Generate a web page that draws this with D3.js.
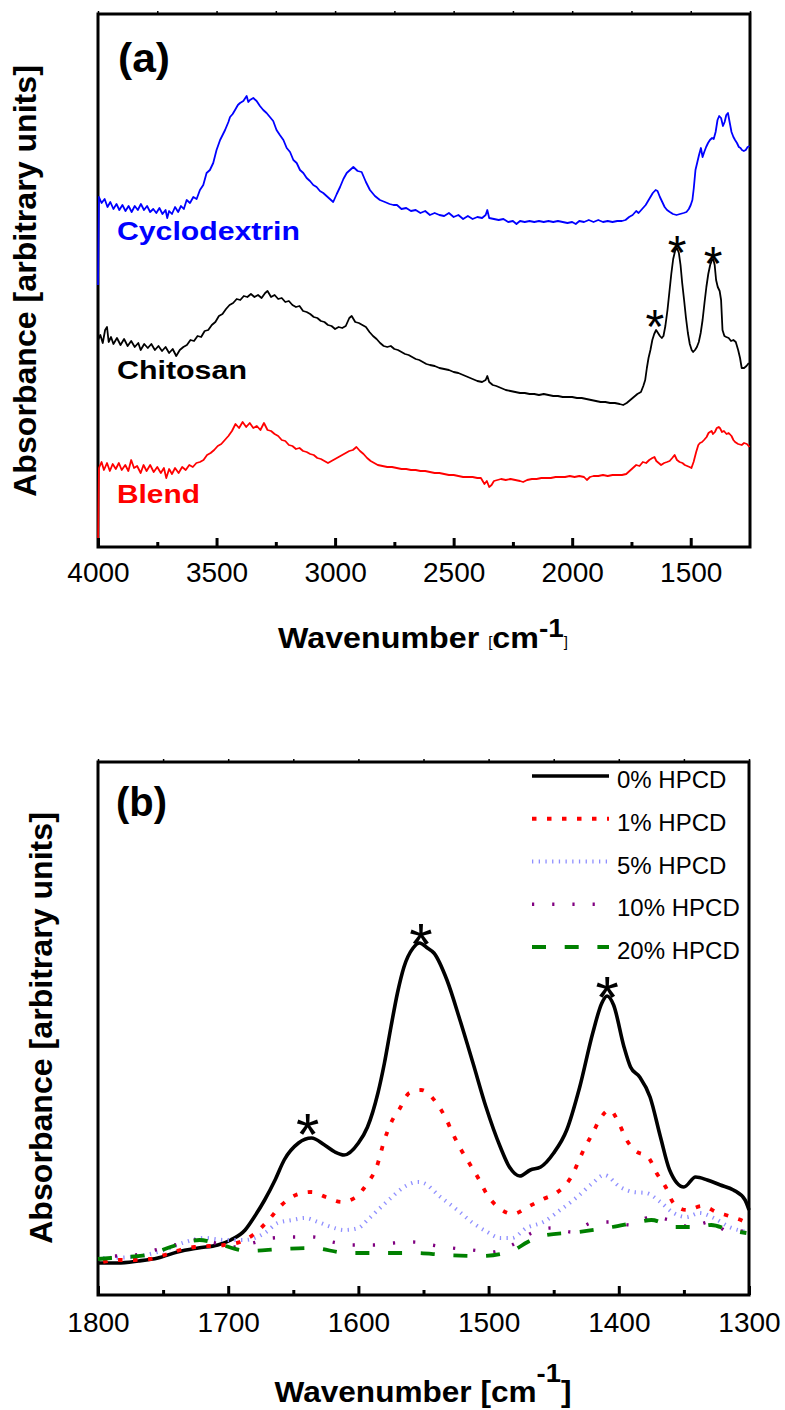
<!DOCTYPE html>
<html>
<head>
<meta charset="utf-8">
<script src="https://cdn.jsdelivr.net/npm/d3@7"></script>
<style>
  body { margin: 0; background: #fff; }
  svg { display: block; font-family: "Liberation Sans", Arial, sans-serif; }
</style>
</head>
<body>
<svg id="chart"></svg>
<script>
let width = 785, height = 1410;

// ---- panel (a): [wavenumber, absorbance] ----
const cyclodextrin = [[4000,0.524],[3996,0.700],[3985,0.688],[3972,0.696],[3960,0.680],[3948,0.690],[3935,0.676],[3922,0.686],[3910,0.674],[3897,0.684],[3884,0.672],[3871,0.682],[3858,0.670],[3845,0.682],[3832,0.674],[3819,0.686],[3806,0.674],[3793,0.682],[3780,0.670],[3767,0.676],[3754,0.668],[3741,0.678],[3728,0.666],[3715,0.674],[3708,0.658],[3700,0.672],[3688,0.666],[3675,0.680],[3662,0.670],[3650,0.682],[3638,0.676],[3626,0.694],[3612,0.688],[3598,0.700],[3584,0.696],[3570,0.714],[3556,0.724],[3542,0.748],[3528,0.754],[3514,0.768],[3500,0.794],[3485,0.814],[3464,0.834],[3450,0.850],[3443,0.860],[3432,0.866],[3422,0.874],[3410,0.884],[3401,0.888],[3387,0.892],[3373,0.902],[3366,0.890],[3359,0.894],[3345,0.898],[3331,0.892],[3317,0.882],[3303,0.874],[3289,0.868],[3275,0.860],[3261,0.852],[3247,0.834],[3233,0.824],[3218,0.814],[3204,0.798],[3190,0.790],[3176,0.774],[3162,0.768],[3148,0.754],[3134,0.748],[3120,0.738],[3106,0.732],[3092,0.724],[3078,0.720],[3064,0.712],[3050,0.708],[3036,0.702],[3022,0.696],[3008,0.690],[2993,0.706],[2979,0.720],[2965,0.736],[2951,0.748],[2937,0.754],[2923,0.760],[2905,0.752],[2888,0.750],[2870,0.730],[2853,0.714],[2832,0.702],[2811,0.694],[2790,0.690],[2770,0.686],[2754,0.684],[2739,0.684],[2720,0.676],[2700,0.678],[2680,0.672],[2660,0.674],[2640,0.668],[2620,0.672],[2600,0.664],[2580,0.668],[2560,0.664],[2540,0.662],[2520,0.668],[2500,0.660],[2480,0.664],[2460,0.656],[2440,0.662],[2420,0.656],[2400,0.660],[2380,0.658],[2365,0.664],[2358,0.674],[2350,0.658],[2330,0.656],[2310,0.654],[2290,0.656],[2270,0.650],[2250,0.652],[2235,0.646],[2220,0.652],[2200,0.650],[2180,0.652],[2160,0.650],[2140,0.652],[2120,0.650],[2100,0.652],[2080,0.650],[2060,0.652],[2040,0.650],[2020,0.648],[2000,0.650],[1985,0.646],[1970,0.652],[1950,0.650],[1930,0.654],[1910,0.650],[1890,0.654],[1870,0.650],[1850,0.652],[1830,0.650],[1810,0.652],[1790,0.652],[1775,0.654],[1760,0.660],[1745,0.664],[1730,0.672],[1720,0.668],[1705,0.676],[1690,0.684],[1675,0.696],[1660,0.708],[1648,0.714],[1640,0.712],[1630,0.700],[1620,0.690],[1610,0.680],[1600,0.674],[1588,0.670],[1575,0.666],[1560,0.664],[1545,0.666],[1530,0.668],[1518,0.670],[1508,0.676],[1500,0.684],[1493,0.694],[1487,0.718],[1480,0.754],[1472,0.770],[1465,0.784],[1457,0.798],[1450,0.780],[1443,0.790],[1435,0.800],[1427,0.808],[1419,0.814],[1410,0.818],[1403,0.816],[1395,0.830],[1387,0.854],[1380,0.862],[1372,0.858],[1364,0.842],[1357,0.850],[1350,0.864],[1343,0.868],[1336,0.850],[1328,0.830],[1320,0.820],[1313,0.814],[1305,0.808],[1297,0.800],[1290,0.798],[1284,0.794],[1276,0.792],[1268,0.794],[1260,0.800],[1252,0.802]];

const chitosan = [[4000,0.414],[3990,0.424],[3980,0.408],[3970,0.434],[3962,0.440],[3955,0.410],[3945,0.420],[3935,0.406],[3920,0.418],[3905,0.404],[3890,0.416],[3875,0.402],[3860,0.412],[3845,0.400],[3830,0.408],[3820,0.394],[3805,0.406],[3790,0.398],[3775,0.406],[3760,0.394],[3745,0.402],[3730,0.392],[3715,0.400],[3700,0.388],[3685,0.396],[3670,0.382],[3655,0.394],[3640,0.400],[3625,0.404],[3610,0.414],[3595,0.412],[3580,0.422],[3565,0.420],[3550,0.432],[3535,0.434],[3520,0.444],[3505,0.450],[3490,0.462],[3475,0.466],[3460,0.476],[3445,0.484],[3430,0.488],[3415,0.496],[3400,0.494],[3385,0.502],[3370,0.500],[3355,0.506],[3340,0.500],[3325,0.504],[3310,0.498],[3295,0.508],[3285,0.512],[3270,0.500],[3255,0.504],[3240,0.496],[3225,0.498],[3210,0.490],[3195,0.492],[3180,0.484],[3165,0.480],[3150,0.482],[3135,0.472],[3120,0.470],[3105,0.466],[3090,0.460],[3075,0.458],[3060,0.452],[3045,0.450],[3030,0.444],[3015,0.442],[3000,0.436],[2985,0.440],[2970,0.438],[2955,0.442],[2940,0.458],[2930,0.462],[2915,0.450],[2900,0.448],[2885,0.444],[2870,0.440],[2855,0.430],[2840,0.422],[2825,0.416],[2810,0.408],[2795,0.402],[2780,0.400],[2765,0.402],[2750,0.396],[2735,0.394],[2720,0.390],[2705,0.386],[2690,0.384],[2675,0.380],[2660,0.376],[2645,0.374],[2630,0.370],[2615,0.366],[2600,0.364],[2580,0.362],[2560,0.358],[2540,0.356],[2520,0.354],[2500,0.350],[2480,0.348],[2460,0.344],[2440,0.340],[2420,0.336],[2400,0.332],[2380,0.330],[2365,0.334],[2358,0.342],[2350,0.330],[2335,0.324],[2320,0.322],[2300,0.318],[2280,0.314],[2260,0.312],[2240,0.310],[2220,0.308],[2200,0.308],[2180,0.306],[2160,0.306],[2140,0.304],[2120,0.306],[2100,0.304],[2080,0.302],[2060,0.302],[2040,0.300],[2020,0.300],[2000,0.300],[1980,0.298],[1960,0.298],[1940,0.296],[1920,0.294],[1900,0.292],[1880,0.290],[1860,0.290],[1840,0.288],[1820,0.288],[1800,0.286],[1785,0.284],[1770,0.288],[1755,0.294],[1740,0.300],[1725,0.306],[1710,0.310],[1700,0.322],[1692,0.334],[1685,0.358],[1678,0.378],[1670,0.394],[1662,0.414],[1654,0.426],[1646,0.434],[1638,0.428],[1630,0.422],[1622,0.418],[1615,0.422],[1607,0.442],[1598,0.474],[1590,0.510],[1582,0.546],[1574,0.576],[1566,0.592],[1558,0.598],[1550,0.588],[1543,0.564],[1536,0.528],[1528,0.494],[1520,0.458],[1512,0.428],[1504,0.406],[1496,0.394],[1490,0.390],[1482,0.394],[1474,0.400],[1466,0.410],[1458,0.428],[1450,0.454],[1442,0.488],[1434,0.520],[1426,0.546],[1418,0.564],[1410,0.574],[1405,0.576],[1399,0.564],[1393,0.534],[1386,0.520],[1378,0.512],[1372,0.494],[1366,0.434],[1358,0.422],[1350,0.420],[1340,0.418],[1330,0.412],[1320,0.414],[1310,0.410],[1300,0.394],[1292,0.378],[1285,0.358],[1275,0.358],[1265,0.362],[1255,0.368]];

const blend = [[4000,0],[3996,0.158],[3985,0.170],[3975,0.154],[3962,0.168],[3950,0.152],[3938,0.166],[3925,0.156],[3912,0.168],[3900,0.154],[3885,0.164],[3872,0.152],[3860,0.174],[3848,0.158],[3835,0.162],[3820,0.148],[3808,0.164],[3795,0.152],[3780,0.164],[3765,0.150],[3750,0.160],[3735,0.148],[3722,0.158],[3712,0.138],[3700,0.156],[3688,0.146],[3675,0.158],[3660,0.148],[3645,0.160],[3630,0.154],[3615,0.164],[3600,0.160],[3585,0.168],[3570,0.170],[3555,0.174],[3540,0.184],[3525,0.188],[3510,0.194],[3495,0.202],[3480,0.206],[3465,0.214],[3450,0.222],[3435,0.232],[3420,0.246],[3405,0.238],[3390,0.250],[3375,0.240],[3360,0.248],[3345,0.238],[3330,0.242],[3315,0.234],[3300,0.248],[3285,0.234],[3270,0.232],[3255,0.226],[3240,0.222],[3225,0.214],[3210,0.212],[3195,0.204],[3180,0.202],[3165,0.196],[3150,0.198],[3135,0.192],[3120,0.190],[3105,0.186],[3090,0.184],[3075,0.178],[3060,0.176],[3045,0.172],[3030,0.168],[3015,0.172],[3000,0.176],[2985,0.180],[2970,0.184],[2955,0.188],[2940,0.192],[2925,0.194],[2910,0.200],[2895,0.192],[2880,0.186],[2865,0.178],[2850,0.172],[2835,0.168],[2820,0.164],[2800,0.162],[2780,0.160],[2760,0.160],[2740,0.158],[2720,0.156],[2700,0.156],[2680,0.154],[2660,0.154],[2640,0.152],[2620,0.152],[2600,0.150],[2580,0.148],[2560,0.148],[2540,0.146],[2520,0.144],[2500,0.144],[2480,0.142],[2460,0.140],[2440,0.140],[2420,0.140],[2400,0.138],[2385,0.138],[2370,0.126],[2360,0.132],[2350,0.120],[2340,0.124],[2330,0.132],[2315,0.134],[2300,0.136],[2280,0.134],[2260,0.136],[2240,0.134],[2220,0.132],[2207,0.130],[2190,0.134],[2170,0.136],[2150,0.136],[2130,0.138],[2110,0.138],[2090,0.138],[2070,0.140],[2050,0.140],[2030,0.140],[2010,0.142],[1990,0.140],[1970,0.142],[1950,0.140],[1938,0.134],[1925,0.140],[1910,0.142],[1890,0.142],[1870,0.144],[1850,0.142],[1830,0.144],[1810,0.144],[1790,0.144],[1772,0.146],[1758,0.152],[1744,0.158],[1730,0.164],[1716,0.162],[1702,0.170],[1688,0.168],[1675,0.174],[1662,0.178],[1653,0.180],[1645,0.172],[1635,0.168],[1625,0.164],[1612,0.168],[1600,0.170],[1589,0.172],[1578,0.178],[1568,0.184],[1558,0.174],[1547,0.170],[1535,0.168],[1525,0.164],[1515,0.162],[1505,0.160],[1497,0.158],[1488,0.170],[1477,0.190],[1468,0.204],[1461,0.208],[1452,0.210],[1444,0.214],[1433,0.220],[1425,0.228],[1419,0.230],[1412,0.232],[1406,0.226],[1398,0.230],[1390,0.238],[1382,0.240],[1377,0.238],[1368,0.230],[1360,0.232],[1349,0.226],[1340,0.228],[1328,0.222],[1320,0.214],[1313,0.210],[1300,0.206],[1285,0.204],[1275,0.208],[1263,0.206],[1252,0.200]];

const seriesA = ["Cyclodextrin", "Chitosan", "Blend"];
const peaksA = [[1651, 0.464], [1558, 0.612], [1406, 0.590]];
const ticksA = [4000, 3500, 3000, 2500, 2000, 1500];
const minorA = [3750, 3250, 2750, 2250, 1750, 1250];

// ---- panel (b) ----
const hpcd0 = [[1800,0.064],[1785,0.064],[1769,0.068],[1754,0.074],[1739,0.086],[1723,0.094],[1708,0.100],[1698,0.110],[1687,0.130],[1680,0.156],[1672,0.190],[1664,0.230],[1657,0.270],[1646,0.304],[1636,0.314],[1626,0.300],[1618,0.286],[1611,0.280],[1600,0.304],[1593,0.336],[1585,0.404],[1580,0.464],[1575,0.536],[1570,0.604],[1565,0.656],[1558,0.694],[1553,0.704],[1547,0.694],[1542,0.684],[1532,0.630],[1522,0.550],[1512,0.464],[1502,0.376],[1491,0.296],[1484,0.256],[1476,0.238],[1468,0.250],[1460,0.256],[1450,0.284],[1440,0.330],[1430,0.416],[1420,0.524],[1413,0.584],[1409,0.598],[1404,0.580],[1396,0.496],[1391,0.456],[1384,0.436],[1376,0.396],[1368,0.316],[1361,0.250],[1350,0.216],[1341,0.236],[1332,0.230],[1322,0.220],[1312,0.210],[1303,0.190],[1300,0.170]];
const hpcd1 = [[1796,0.066],[1785,0.070],[1772,0.070],[1760,0.072],[1749,0.080],[1737,0.090],[1726,0.096],[1714,0.098],[1703,0.100],[1691,0.106],[1681,0.120],[1669,0.150],[1659,0.180],[1648,0.200],[1636,0.206],[1625,0.196],[1613,0.186],[1603,0.194],[1593,0.224],[1586,0.256],[1580,0.310],[1575,0.344],[1568,0.374],[1561,0.404],[1552,0.410],[1540,0.384],[1533,0.354],[1527,0.320],[1521,0.290],[1514,0.260],[1508,0.234],[1501,0.200],[1492,0.174],[1481,0.162],[1470,0.176],[1458,0.192],[1448,0.204],[1437,0.234],[1427,0.290],[1420,0.324],[1414,0.354],[1407,0.370],[1400,0.344],[1394,0.310],[1388,0.290],[1377,0.274],[1371,0.244],[1364,0.216],[1358,0.184],[1348,0.170],[1336,0.178],[1325,0.166],[1313,0.156],[1302,0.144],[1300,0.140]];
const hpcd5 = [[1796,0.074],[1774,0.076],[1749,0.090],[1733,0.106],[1718,0.114],[1703,0.110],[1687,0.110],[1672,0.124],[1662,0.144],[1651,0.150],[1641,0.154],[1631,0.146],[1621,0.136],[1611,0.130],[1600,0.134],[1593,0.150],[1585,0.170],[1575,0.194],[1565,0.216],[1554,0.226],[1550,0.224],[1537,0.196],[1524,0.170],[1512,0.144],[1501,0.126],[1491,0.114],[1482,0.114],[1471,0.134],[1458,0.146],[1445,0.170],[1432,0.196],[1420,0.224],[1411,0.240],[1399,0.216],[1389,0.206],[1379,0.204],[1368,0.186],[1358,0.164],[1348,0.156],[1338,0.164],[1327,0.154],[1315,0.136],[1302,0.126]];
const hpcd10 = [[1787,0.078],[1772,0.080],[1756,0.090],[1741,0.100],[1726,0.110],[1710,0.104],[1695,0.096],[1681,0.104],[1666,0.114],[1650,0.116],[1635,0.116],[1620,0.106],[1604,0.100],[1589,0.100],[1573,0.104],[1558,0.106],[1544,0.100],[1528,0.094],[1513,0.090],[1498,0.086],[1482,0.100],[1467,0.124],[1452,0.134],[1436,0.126],[1421,0.144],[1406,0.146],[1391,0.140],[1376,0.156],[1361,0.150],[1345,0.136],[1330,0.146],[1315,0.126],[1300,0.130]];
const hpcd20 = [[1800,0.072],[1790,0.074],[1763,0.080],[1737,0.102],[1722,0.110],[1710,0.104],[1685,0.088],[1659,0.092],[1636,0.094],[1608,0.084],[1583,0.084],[1557,0.084],[1533,0.080],[1505,0.078],[1482,0.088],[1470,0.106],[1456,0.120],[1431,0.126],[1405,0.136],[1385,0.146],[1375,0.150],[1357,0.136],[1340,0.136],[1329,0.140],[1315,0.130],[1302,0.124]];

const legendLabels = ["0% HPCD", "1% HPCD", "5% HPCD", "10% HPCD", "20% HPCD"];
const peaksB = [[1639, 0.350], [1552, 0.730], [1409, 0.624]];
const ticksB = [1800, 1700, 1600, 1500, 1400, 1300];
const minorB = [1750, 1650, 1550, 1450, 1350];

const styleA = [
  {color: "#0000ff"}, {color: "#000000"}, {color: "#ff0000"}
];
const styleB = [
  {color: "#000000", w: 3.6, dash: null},
  {color: "#ff0000", w: 3.8, dash: "4.5,10.5"},
  {color: "#8f8fff", w: 4, dash: "1.3,5.4"},
  {color: "#800080", w: 3.4, dash: "2.2,18"},
  {color: "#008000", w: 3.8, dash: "14,18.7"}
];

let svg = d3.select("#chart")
  .attr("width", width)
  .attr("height", height);

let xA = d3.scaleLinear().domain([4000, 1250]).range([98, 750]);
let yA = d3.scaleLinear().domain([0, 1.066]).range([547, 14]);
let xB = d3.scaleLinear().domain([1800, 1300]).range([98, 749]);
let yB = d3.scaleLinear().domain([0, 1.066]).range([1295, 762]);

// stretch a text horizontally to the width it has in the figure
const fit = (sel, x, y, w, rot) => {
  let bw = sel.node().getBBox().width;
  sel.attr("transform", `translate(${x},${y})` + (rot ? " rotate(-90)" : "") + ` scale(${w / bw},1)`);
};

const frame = (x, y) => {
  svg.append("rect")
    .attr("x", x.range()[0]).attr("y", y.range()[1])
    .attr("width", x.range()[1] - x.range()[0])
    .attr("height", y.range()[0] - y.range()[1])
    .attr("fill", "none").attr("stroke", "#000").attr("stroke-width", 3);
};

const axes = (x, y, major, minor, pad) => {
  let y0 = y.range()[0], y1 = y.range()[1];
  svg.append("g")
    .attr("transform", "translate(0," + y0 + ")")
    .call(d3.axisBottom(x).tickValues(major).tickSize(-9).tickPadding(pad).tickFormat(d3.format("d")))
    .call(g => g.select(".domain").remove())
    .call(g => g.selectAll("line").attr("stroke-width", 3))
    .attr("font-size", 28).attr("font-family", null)
    .call(g => g.selectAll("text").attr("fill", "#000"));
  svg.append("g")
    .attr("transform", "translate(0," + y0 + ")")
    .call(d3.axisBottom(x).tickValues(minor.filter(d => d !== x.domain()[1])).tickSize(-5).tickFormat(""))
    .call(g => g.select(".domain").remove())
    .call(g => g.selectAll("line").attr("stroke-width", 3));
  svg.append("g")
    .attr("transform", "translate(0," + (y1 - 1) + ")")
    .call(d3.axisTop(x).tickValues(major.concat(minor)).tickSize(2).tickFormat(""))
    .call(g => g.select(".domain").remove())
    .call(g => g.selectAll("line").attr("stroke-width", 1.5));
};

const xTitle = (x, y, w, small) => {
  let t = svg.append("text").attr("font-weight", "bold").attr("font-size", 30).attr("text-anchor", "middle");
  t.append("tspan").text("Wavenumber ");
  if (small) {
    t.append("tspan").attr("font-weight", "normal").attr("font-size", 14).attr("dy", -1).text("[");
    t.append("tspan").attr("dy", 1).text("cm");
    t.append("tspan").attr("font-size", 26).attr("dy", -11.5).text("-1");
    t.append("tspan").attr("font-weight", "normal").attr("font-size", 14).attr("dy", 10.5).text("]");
  } else {
    t.append("tspan").text("[cm");
    t.append("tspan").attr("font-size", 26).attr("dy", -20).text("-1");
    t.append("tspan").attr("dy", 20).text("]");
  }
  fit(t, x, y, w);
};

const yTitle = (x, y) => {
  let t = svg.append("text").attr("font-weight", "bold").attr("font-size", 31)
    .attr("text-anchor", "middle").text("Absorbance [arbitrary units]");
  fit(t, x, y, 432, true);
};

const stars = (pts, x, y, fs) => {
  svg.append("g").selectAll("text")
    .data(pts)
    .enter().append("text")
      .attr("x", d => x(d[0]))
      .attr("y", d => y(d[1]) + 0.58 * fs)
      .attr("text-anchor", "middle")
      .attr("font-size", fs)
      .text("*");
};

// ---------- panel (a) ----------
frame(xA, yA);

let lineA = d3.line().x(d => xA(d[0])).y(d => yA(d[1]));
svg.append("g").selectAll("path")
  .data([cyclodextrin, chitosan, blend])
  .enter().append("path")
    .attr("d", lineA)
    .attr("fill", "none")
    .attr("stroke", (d, i) => styleA[i].color)
    .attr("stroke-width", 1.8)
    .attr("stroke-linejoin", "round");

axes(xA, yA, ticksA, minorA, 15);

// curve names, positions from the figure
[[117, 240, 183], [117, 379, 130], [117, 503, 83]].forEach((p, i) => {
  let t = svg.append("text").attr("font-weight", "bold").attr("font-size", 26)
    .attr("fill", styleA[i].color).text(seriesA[i]);
  fit(t, p[0], p[1], p[2]);
});

stars(peaksA, xA, yA, 48);

let la = svg.append("text").attr("font-weight", "bold").attr("font-size", 40).text("(a)");
fit(la, 118, 72, 52);

xTitle(423, 648, 290, true);
yTitle(36, 281);

// ---------- panel (b) ----------
frame(xB, yB);

let lineB = d3.line().x(d => xB(d[0])).y(d => yB(d[1])).curve(d3.curveMonotoneX);
svg.append("g").selectAll("path")
  .data([hpcd0, hpcd1, hpcd5, hpcd10, hpcd20])
  .enter().append("path")
    .attr("d", lineB)
    .attr("fill", "none")
    .attr("stroke", (d, i) => styleB[i].color)
    .attr("stroke-width", (d, i) => styleB[i].w)
    .attr("stroke-dasharray", (d, i) => styleB[i].dash);

axes(xB, yB, ticksB, minorB, 17);

stars(peaksB, xB, yB, 60);

let lb = svg.append("text").attr("font-weight", "bold").attr("font-size", 40).text("(b)");
fit(lb, 116, 816, 51);

// legend
let legend = svg.append("g").selectAll("g")
  .data(legendLabels)
  .enter().append("g")
    .attr("transform", (d, i) => "translate(532," + (776 + i * 42.75) + ")");
legend.append("line")
  .attr("x1", 0).attr("x2", 77)
  .attr("stroke", (d, i) => styleB[i].color)
  .attr("stroke-width", (d, i) => styleB[i].w)
  .attr("stroke-dasharray", (d, i) => styleB[i].dash);
legend.append("text")
  .attr("x", 85).attr("y", 12)
  .attr("font-size", 24)
  .text(d => d);

xTitle(423, 1402, 297, false);
yTitle(52, 1028);
</script>
</body>
</html>
